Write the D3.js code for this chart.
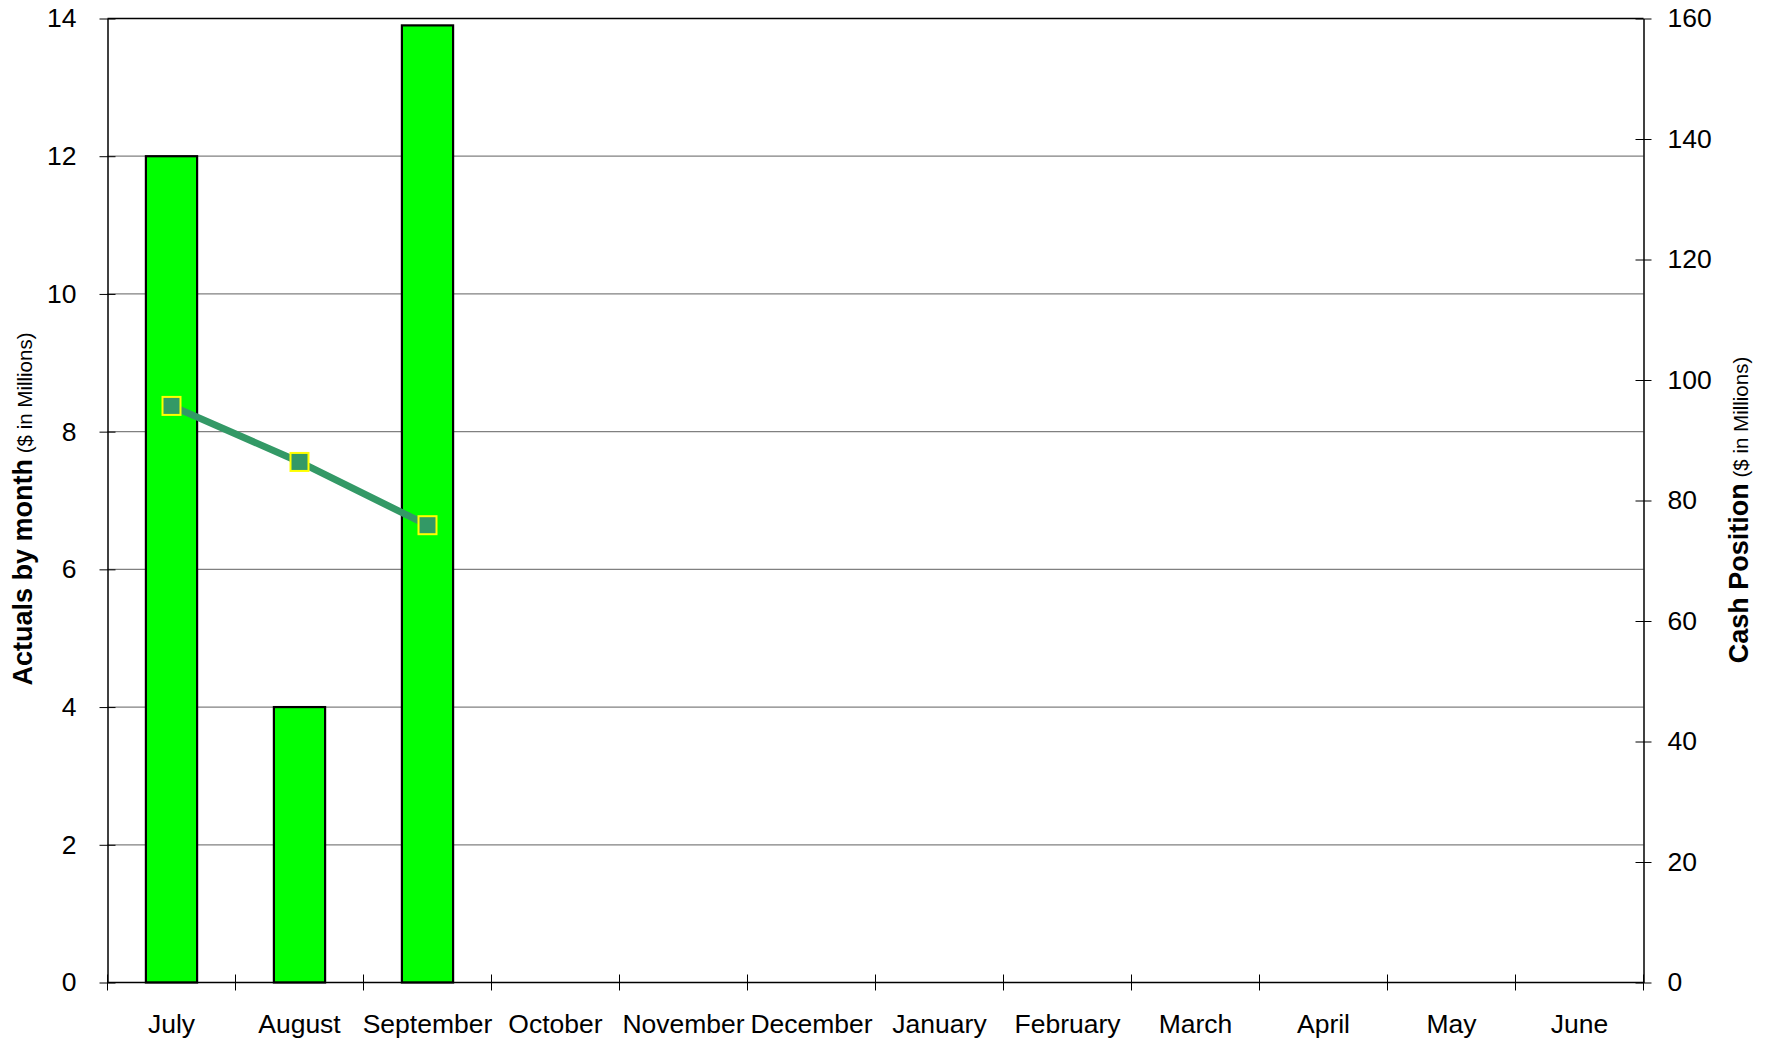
<!DOCTYPE html>
<html>
<head>
<meta charset="utf-8">
<script src="https://cdn.jsdelivr.net/npm/d3@7"></script>
<style>
  body { margin:0; background:#ffffff; }
  svg text { font-family: "Liberation Sans", Arial, sans-serif; fill:#000000; }
</style>
</head>
<body>
<div id="chart"></div>
<script>
//Data
var months = ["July","August","September","October","November","December","January","February","March","April","May","June"];
//monthly actuals, only first 3 months reported
var actuals = [12, 4, 13.9];
//cash position (right axis)
var cashPosition = [95.7, 86.4, 75.9];
var leftTicks = [0,2,4,6,8,10,12,14];
var rightTicks = [0,20,40,60,80,100,120,140,160];

var width = 1775, height = 1045;
var margin = {left:107.5, top:18.5, right:131.5, bottom:62.5};
var chartWidth = width - margin.left - margin.right;
var chartHeight = height - margin.top - margin.bottom;
var labelSize = "26.5px";

var svg = d3.select("#chart").append("svg")
    .attr("width", width)
    .attr("height", height);

var g = svg.append("g")
    .attr("transform", "translate(" + margin.left + "," + margin.top + ")");

var x = d3.scaleBand().domain(months).range([0, chartWidth]);
var yLeft = d3.scaleLinear().domain([0,14]).range([chartHeight, 0]);
var yRight = d3.scaleLinear().domain([0,160]).range([chartHeight, 0]);

//gridlines (grey) at left axis ticks, top one is the black border
g.append("g").selectAll("line")
    .data(leftTicks.filter(function (d) { return d > 0 && d < 14; }))
  .enter().append("line")
    .attr("x1", 0).attr("x2", chartWidth)
    .attr("y1", function (d) { return yLeft(d); })
    .attr("y2", function (d) { return yLeft(d); })
    .attr("stroke", "#808080")
    .attr("stroke-width", 1.2);

g.append("line")
    .attr("x1", 0).attr("x2", chartWidth)
    .attr("y1", 0).attr("y2", 0)
    .attr("stroke", "#000").attr("stroke-width", 1.5);

//bars
var barWidth = x.bandwidth() * 0.4;
g.append("g").selectAll("rect")
    .data(actuals)
  .enter().append("rect")
    .attr("x", function (d,i) { return x(months[i]) + (x.bandwidth() - barWidth)/2; })
    .attr("y", function (d) { return yLeft(d); })
    .attr("width", barWidth)
    .attr("height", function (d) { return chartHeight - yLeft(d); })
    .attr("fill", "#00ff00")
    .attr("stroke", "#000")
    .attr("stroke-width", 2.2);

//axes - ticks cross the axis line like excel
function styleAxis(sel) {
  sel.select(".domain").attr("stroke", "#000").attr("stroke-width", 1.5);
  sel.selectAll(".tick line").attr("stroke", "#000").attr("stroke-width", 1);
  sel.selectAll(".tick text").style("font-size", labelSize).attr("fill", "#000");
}

var leftAxis = g.append("g")
    .call(d3.axisLeft(yLeft).tickValues(leftTicks).tickSize(8).tickSizeOuter(0).tickPadding(23));
styleAxis(leftAxis);
leftAxis.selectAll(".tick line").attr("x1", 8);

var rightAxis = g.append("g")
    .attr("transform", "translate(" + chartWidth + ",0)")
    .call(d3.axisRight(yRight).tickValues(rightTicks).tickSize(8).tickSizeOuter(0).tickPadding(16));
styleAxis(rightAxis);
rightAxis.selectAll(".tick line").attr("x1", -8);

//bottom axis ticks go at the band edges, labels in the middle
var bottomAxis = g.append("g")
    .attr("transform", "translate(0," + chartHeight + ")");
bottomAxis.append("line")
    .attr("x1", 0).attr("x2", chartWidth)
    .attr("stroke", "#000").attr("stroke-width", 1.5);
bottomAxis.selectAll(".mtick")
    .data(months.concat(["end"]))
  .enter().append("line")
    .attr("class", "mtick")
    .attr("x1", function (d,i) { return i * x.step(); })
    .attr("x2", function (d,i) { return i * x.step(); })
    .attr("y1", -8).attr("y2", 8)
    .attr("stroke", "#000").attr("stroke-width", 1);
bottomAxis.selectAll(".mlabel")
    .data(months)
  .enter().append("text")
    .attr("class", "mlabel")
    .attr("x", function (d) { return x(d) + x.bandwidth()/2; })
    .attr("y", 50)
    .attr("text-anchor", "middle")
    .style("font-size", labelSize)
    .text(function (d) { return d; });

//cash position line
var line = d3.line()
    .x(function (d,i) { return x(months[i]) + x.bandwidth()/2; })
    .y(function (d) { return yRight(d); });

g.append("path")
    .datum(cashPosition)
    .attr("d", line)
    .attr("fill", "none")
    .attr("stroke", "#339966")
    .attr("stroke-width", 7);

var markerSize = 18;
g.append("g").selectAll("rect")
    .data(cashPosition)
  .enter().append("rect")
    .attr("x", function (d,i) { return x(months[i]) + x.bandwidth()/2 - markerSize/2; })
    .attr("y", function (d) { return yRight(d) - markerSize/2; })
    .attr("width", markerSize)
    .attr("height", markerSize)
    .attr("fill", "#339966")
    .attr("stroke", "#ffff00")
    .attr("stroke-width", 2);

//axis titles (bold part + small units part)
function axisTitle(tx, ty, bold) {
  var t = svg.append("text")
      .attr("transform", "translate(" + tx + "," + ty + ")rotate(-90)")
      .attr("text-anchor", "middle");
  t.append("tspan").style("font-weight", "bold").style("font-size", "27px").text(bold);
  t.append("tspan").style("font-size", "20.5px").text(" ($ in Millions)");
}
axisTitle(32, 509, "Actuals by month");
axisTitle(1748, 510, "Cash Position");
</script>
</body>
</html>
